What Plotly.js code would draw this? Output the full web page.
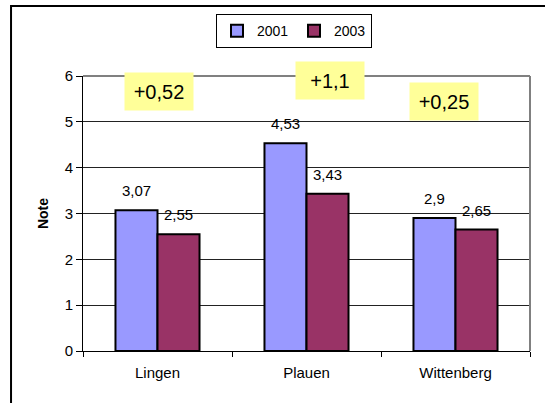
<!DOCTYPE html>
<html>
<head>
<meta charset="utf-8">
<script src="https://cdn.plot.ly/plotly-3.0.1.min.js"></script>
<style>html,body{margin:0;padding:0;background:#fff;}#chart{width:545px;height:403px;}</style>
</head>
<body>
<div id="chart"></div>
<script>
const categories = ["Lingen", "Plauen", "Wittenberg"];
const values2001 = [3.07, 4.53, 2.9];
const values2003 = [2.55, 3.43, 2.65];
const diffLabels = ["+0,52", "+1,1", "+0,25"];
const seriesNames = ["2001", "2003"];
const yTicks = [0, 1, 2, 3, 4, 5, 6];

const fmt = v => String(v).replace('.', ',');
const FONT = "Liberation Sans, Arial, sans-serif";

const traces = [
  {type: 'bar', name: seriesNames[0], x: categories, y: values2001,
   marker: {color: '#9999FF', line: {color: '#000', width: 2}}, hoverinfo: 'none'},
  {type: 'bar', name: seriesNames[1], x: categories, y: values2003,
   marker: {color: '#993366', line: {color: '#000', width: 2}}, hoverinfo: 'none'}
];

const annotations = [];
categories.forEach((c, i) => {
  annotations.push({x: c, y: values2001[i], xref: 'x', yref: 'y', text: fmt(values2001[i]),
    showarrow: false, xshift: -21, yshift: 9, yanchor: 'bottom',
    font: {family: FONT, size: 15, color: '#000'}});
  annotations.push({x: c, y: values2003[i], xref: 'x', yref: 'y', text: fmt(values2003[i]),
    showarrow: false, xshift: 21, yshift: 9, yanchor: 'bottom',
    font: {family: FONT, size: 15, color: '#000'}});
});
const boxPos = [[0.170, 0.945], [0.5526, 0.9836], [0.8076, 0.907]];
diffLabels.forEach((t, i) => {
  annotations.push({x: boxPos[i][0], y: boxPos[i][1], xref: 'paper', yref: 'paper', text: t,
    showarrow: false, xanchor: 'center', yanchor: 'middle', bgcolor: '#FFFF99',
    width: 66, height: 35, borderpad: 1, font: {family: FONT, size: 20, color: '#000'}});
});

const layout = {
  width: 545, height: 403,
  margin: {l: 83, r: 15, t: 76, b: 52},
  paper_bgcolor: '#fff', plot_bgcolor: '#fff',
  font: {family: FONT, size: 15, color: '#000'},
  barmode: 'group', bargap: 0.436, bargroupgap: 0,
  showlegend: true,
  legend: {orientation: 'h', x: 0.472, xanchor: 'center', y: 1.225, yanchor: 'top',
    bordercolor: '#000', borderwidth: 1, font: {family: FONT, size: 14}, itemclick: false,
    entrywidth: 32, entrywidthmode: 'pixels', itemwidth: 30},
  xaxis: {type: 'category', showline: true, linecolor: '#000', linewidth: 1,
    ticks: 'outside', tickson: 'boundaries', ticklen: 5, tickcolor: '#000',
    showgrid: false, ticklabelstandoff: 8, fixedrange: true,
    tickfont: {family: FONT, size: 15}},
  yaxis: {range: [0, 6], tickvals: yTicks, ticktext: yTicks.map(String),
    showline: true, linecolor: '#000', linewidth: 1,
    ticks: 'outside', ticklen: 6, tickcolor: '#000',
    showgrid: true, gridcolor: '#222', gridwidth: 1, zeroline: false,
    tickfont: {family: FONT, size: 15},
    title: {text: '<b>Note</b>', font: {family: FONT, size: 14}, standoff: 12}, fixedrange: true},
  annotations: annotations,
  shapes: [
    {type: 'line', xref: 'paper', yref: 'paper', x0: 0, x1: 1, y0: 1, y1: 1, line: {color: '#808080', width: 2}},
    {type: 'line', xref: 'paper', yref: 'paper', x0: 1, x1: 1, y0: 0, y1: 1, line: {color: '#808080', width: 2}},
    {type: 'rect', xref: 'paper', yref: 'paper', x0: -0.161, x1: 1.2, y0: -0.4, y1: 1.2545, line: {color: '#000', width: 2}, layer: 'below'}
  ]
};

Plotly.newPlot('chart', traces, layout, {displayModeBar: false, staticPlot: true});
</script>
</body>
</html>
